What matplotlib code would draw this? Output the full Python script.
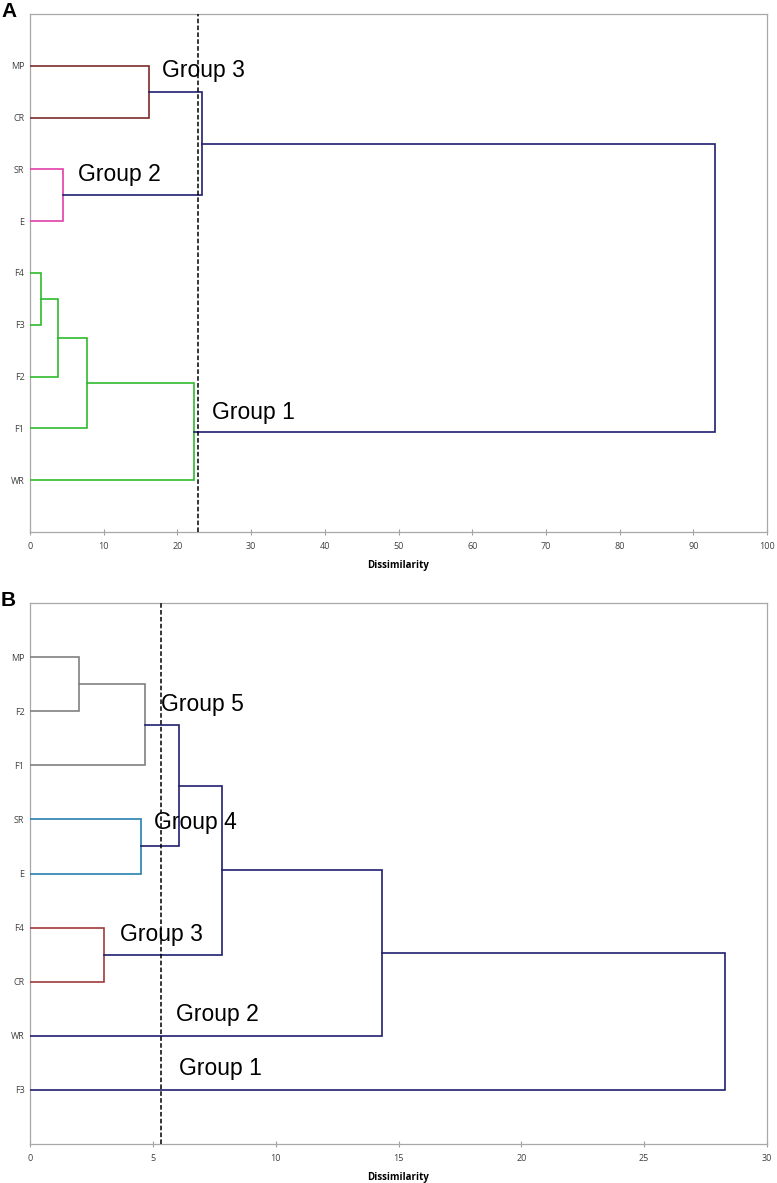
import matplotlib
matplotlib.use("Agg")
import matplotlib.pyplot as plt

# ---------------- data ----------------
A_leaves = ['MP', 'CR', 'SR', 'E', 'F4', 'F3', 'F2', 'F1', 'WR']
A_left = ['MP', 'SR', 'n0', 'F4', 'n3', 'n4', 'n5', 'n2']
A_right = ['CR', 'E', 'n1', 'F3', 'F2', 'F1', 'WR', 'n6']
A_height = [16.1, 4.5, 23.35, 1.5, 3.85, 7.7, 22.2, 93.0]
A_cut = 22.8
A_groups = ['Group 3', 'Group 2', 'Group 1']
A_group_x = [17.9, 6.5, 24.7]
A_group_y = [1.1, 3.1, 7.7]

B_leaves = ['MP', 'F2', 'F1', 'SR', 'E', 'F4', 'CR', 'WR', 'F3']
B_left = ['MP', 'n0', 'SR', 'n1', 'F4', 'n3', 'n5', 'n6']
B_right = ['F2', 'F1', 'E', 'n2', 'CR', 'n4', 'WR', 'F3']
B_height = [2.0, 4.68, 4.53, 6.06, 3.01, 7.83, 14.33, 28.3]
B_cut = 5.35
B_groups = ['Group 5', 'Group 4', 'Group 3', 'Group 2', 'Group 1']
B_group_x = [5.33, 5.05, 3.65, 5.95, 6.05]
B_group_y = [1.87, 4.05, 6.12, 7.6, 8.6]

# ---------------- styles ----------------
NAVY = '#1f1f6e'
A_colors = ['#7a2b2b', '#e040a8', NAVY, '#2ebb2e', '#2ebb2e', '#2ebb2e', '#2ebb2e', NAVY]
B_colors = ['#808080', '#808080', '#2a7fae', NAVY, '#a13a3a', NAVY, NAVY, NAVY]

plt.rcParams['font.family'] = ['Liberation Sans', 'DejaVu Sans']

fig = plt.figure(figsize=(7.77, 11.83), dpi=100)


def draw(ax, leaves, left, right, heights, colors, cut, xmax, xstep,
         groups, gx, gy):
    pos = {name: i + 1 for i, name in enumerate(leaves)}
    hgt = {name: 0.0 for name in leaves}
    for k, (a, b, h, c) in enumerate(zip(left, right, heights, colors)):
        ya, yb = pos[a], pos[b]
        ha, hb = hgt[a], hgt[b]
        ax.plot([ha, h, h, hb], [ya, ya, yb, yb], color=c, lw=1.2,
                solid_joinstyle='miter', zorder=3)
        pos['n%d' % k] = (ya + yb) / 2.0
        hgt['n%d' % k] = h
    ax.axvline(cut, color='black', ls=(0, (3, 1.5)), lw=1.1, zorder=4)
    for t, x, y in zip(groups, gx, gy):
        ax.text(x, y, t, fontsize=16.5, ha='left', va='center',
                color='black', zorder=5)
    ax.set_xlim(0, xmax)
    ax.set_ylim(len(leaves) + 1, 0)
    ax.set_yticks(range(1, len(leaves) + 1))
    ax.set_yticklabels(leaves, fontsize=6.5, color='#404040',
                       family=['Open Sans', 'DejaVu Sans'])
    ax.set_xticks(range(0, xmax + 1, xstep))
    ax.tick_params(axis='y', length=0, pad=4)
    ax.tick_params(axis='x', direction='inout', length=5, width=0.8,
                   color='#a0a0a0', labelsize=6.5, labelcolor='#404040',
                   pad=5)
    for lab in ax.get_xticklabels():
        lab.set_family(['Open Sans', 'DejaVu Sans'])
    for s in ax.spines.values():
        s.set_color('#a8a8a8')
        s.set_linewidth(0.9)
    ax.set_xlabel('Dissimilarity', fontsize=7, fontweight='bold',
                  family=['Open Sans', 'DejaVu Sans'], labelpad=6)


axA = fig.add_axes([30 / 777, 1 - 532 / 1183, 737 / 777, 518 / 1183])
draw(axA, A_leaves, A_left, A_right, A_height, A_colors, A_cut, 100, 10,
     A_groups, A_group_x, A_group_y)

axB = fig.add_axes([30 / 777, 1 - 1144 / 1183, 737 / 777, 541 / 1183])
draw(axB, B_leaves, B_left, B_right, B_height, B_colors, B_cut, 30, 5,
     B_groups, B_group_x, B_group_y)

fig.text(1 / 777, 1 - 2 / 1183, 'A', fontsize=15, fontweight='bold',
         ha='left', va='top')
fig.text(1 / 777, 1 - 591 / 1183, 'B', fontsize=15, fontweight='bold',
         ha='left', va='top')

fig.savefig('out.png', dpi=100, facecolor='white')
